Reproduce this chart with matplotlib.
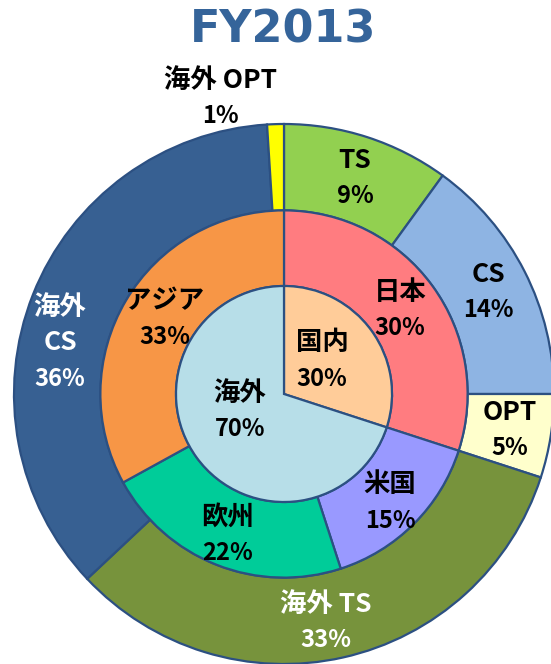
import matplotlib.pyplot as plt

plt.rcParams['font.family'] = ['Noto Sans CJK JP', 'DejaVu Sans']

# inner ring: domestic / overseas
inner_labels = ['国内', '海外']
inner_values = [30, 70]
inner_colors = ['#FFCC99', '#B7DEE8']

# middle ring: regions
mid_labels = ['日本', '米国', '欧州', 'アジア']
mid_values = [30, 15, 22, 33]
mid_colors = ['#FF7C80', '#9999FF', '#00CC99', '#F79646']

# outer ring: business segments (shares)
outer_labels = ['TS', 'CS', 'OPT', '海外 TS', '海外\nCS', '海外 OPT']
outer_values = [10, 15, 5, 33, 36, 1]
outer_text = ['9%', '14%', '5%', '33%', '36%', '1%']
outer_colors = ['#92D050', '#8EB4E3', '#FFFFCC', '#77933C', '#376092', '#FFFF00']

W, H = 551, 664
CX, CY, R = 284, 394, 270  # centre and outer radius in pixels


def px(x, y):
    return (x - CX) / R, (CY - y) / R


fig = plt.figure(figsize=(W / 100, H / 100), dpi=100)
ax = fig.add_axes([0, 0, 1, 1])
ax.axis('off')

edge = dict(edgecolor='#2C5082', linewidth=1.6)
ax.pie(outer_values, radius=1.0, colors=outer_colors, startangle=90, counterclock=False,
       wedgeprops=dict(width=0.32, **edge))
ax.pie(mid_values, radius=0.68, colors=mid_colors, startangle=90, counterclock=False,
       wedgeprops=dict(width=0.28, **edge))
ax.pie(inner_values, radius=0.40, colors=inner_colors, startangle=90, counterclock=False,
       wedgeprops=edge)
ax.set_xlim(-CX / R, (W - CX) / R)
ax.set_ylim(-(H - CY) / R, CY / R)
ax.set_aspect('auto')


def label(name, pct, x, y, color='black'):
    # name line(s) above, percentage line below, 36 px apart
    lines = name.split('\n')
    n = len(lines)
    for i, ln in enumerate(lines):
        ax.text(*px(x, y - 18 - 36 * (n - 1 - i)), ln, ha='center', va='center',
                fontsize=19, fontweight='bold', color=color)
    ax.text(*px(x, y + 18), pct, ha='center', va='center',
            fontsize=17, fontweight='bold', color=color)


outer_pos = [(355, 178), (488, 292), (510, 430), (326, 622), (60, 361), (220, 98)]
for name, pct, (x, y), c in zip(outer_labels, outer_text, outer_pos, outer_colors):
    col = 'white' if c in ('#77933C', '#376092') else 'black'
    label(name, pct, x, y, col)

mid_pct = ['30%', '15%', '22%', '33%']
mid_pos = [(400, 310), (390, 503), (228, 535), (165, 319)]
for name, pct, (x, y) in zip(mid_labels, mid_pct, mid_pos):
    label(name, pct, x, y)

inner_pct = ['30%', '70%']
inner_pos = [(322, 361), (240, 411)]
for name, pct, (x, y) in zip(inner_labels, inner_pct, inner_pos):
    label(name, pct, x, y)

fig.text(283 / W, 1 - 30 / H, 'FY2013', ha='center', va='center', fontsize=32,
         fontweight='bold', color='#35649A', family='DejaVu Sans')

fig.savefig('out.png', dpi=100)
